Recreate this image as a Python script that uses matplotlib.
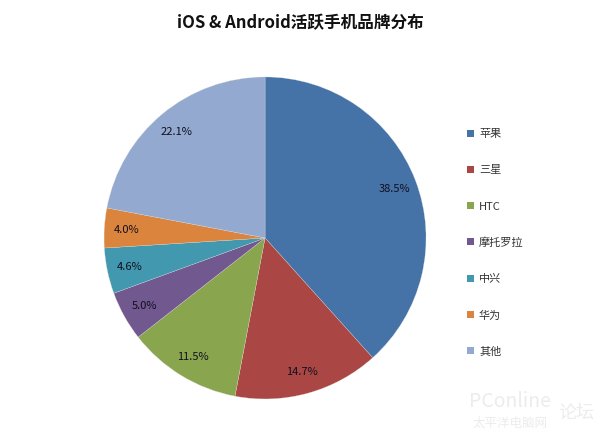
import matplotlib
matplotlib.use("Agg")
import matplotlib.pyplot as plt
from matplotlib.patches import Rectangle

plt.rcParams['font.family'] = ['Noto Sans CJK SC', 'DejaVu Sans']

# brand share of active iOS & Android phones
brands = ["苹果", "三星", "HTC", "摩托罗拉", "中兴", "华为", "其他"]
shares = [38.5, 14.7, 11.5, 5.0, 4.6, 4.0, 22.1]
colors = ["#4572A7", "#AA4643", "#89A54E", "#71588F", "#4198AF", "#DB843D", "#93A9CF"]

fig = plt.figure(figsize=(6, 4.39), dpi=100)
fig.text(0.5, 0.948, "iOS & Android活跃手机品牌分布", ha="center", va="center",
         fontsize=12, fontweight="bold", color="#111111")

ax = fig.add_axes([0.4417 - 0.2683, 0.4556 - 0.3667, 0.5367, 0.7335])
wedges, texts, autotexts = ax.pie(
    shares, colors=colors, startangle=90, counterclock=False,
    autopct=lambda p: "%.1f%%" % (p * sum(shares) / 100),
    pctdistance=0.86, radius=1.0,
    wedgeprops=dict(edgecolor="#dddddd", linewidth=0.2),
    textprops=dict(fontsize=8, color="#101020"))
ax.set_aspect("equal")
ax.set_xlim(-1.0, 1.0)
ax.set_ylim(-1.0, 1.0)

# legend drawn as squares + text on the right
for i, (b, c) in enumerate(zip(brands, colors)):
    y = 1 - (134 + i * 36.3) / 439
    fig.patches.append(Rectangle((467 / 600, y - 3.5 / 439), 7 / 600, 7 / 439,
                                 transform=fig.transFigure, facecolor=c, edgecolor="none"))
    fig.text(479 / 600, y, b, ha="left", va="center", fontsize=8, color="#333333")

# faint watermark
fig.text(0.85, 0.085, "PConline", ha="center", va="center", fontsize=14,
         color="#ececec", style="italic")
fig.text(0.85, 0.035, "太平洋电脑网", ha="center", va="center", fontsize=9, color="#ececec")
fig.text(0.96, 0.06, "论坛", ha="center", va="center", fontsize=13, color="#ececec")

fig.savefig("out.png", dpi=100, facecolor="white")
